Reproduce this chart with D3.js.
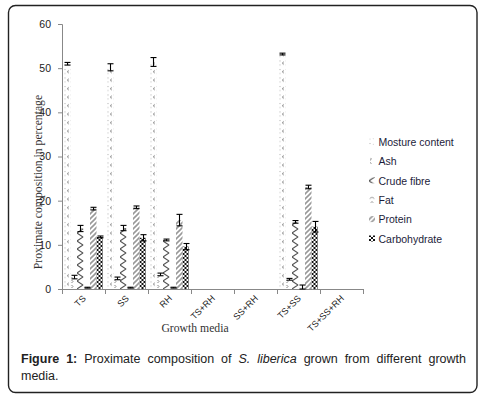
<!DOCTYPE html>
<html>
<head>
<meta charset="utf-8">
<script src="https://cdn.jsdelivr.net/npm/d3@7"></script>
<style>
  body { margin: 0; background: #fff; }
  svg { display: block; }
</style>
</head>
<body>
<svg id="chart" width="485" height="397"></svg>
<script>
// categories and series
const media = ["TS", "SS", "RH", "TS+RH", "SS+RH", "TS+SS", "TS+SS+RH"];
const seriesNames = ["Mosture content", "Ash", "Crude fibre", "Fat", "Protein", "Carbohydrate"];

// values per series, one per growth medium (empty media = 0)
const moisture = [51.0, 50.2, 51.4, 0, 0, 53.2, 0];
const ash      = [2.7, 2.4, 3.3, 0, 0, 2.2, 0];
const fibre    = [13.7, 13.8, 11.1, 0, 0, 15.2, 0];
const fat      = [0.3, 0.3, 0.3, 0, 0, 0.3, 0];
const protein  = [18.2, 18.5, 15.6, 0, 0, 23.1, 0];
const carbo    = [11.8, 11.6, 9.6, 0, 0, 14.1, 0];

// error (+/-) per series
const moistureErr = [0.3, 0.8, 1.0, 0, 0, 0.2, 0];
const ashErr      = [0.4, 0.3, 0.3, 0, 0, 0.2, 0];
const fibreErr    = [0.7, 0.6, 0.2, 0, 0, 0.3, 0];
const fatErr      = [0.1, 0.1, 0.1, 0, 0, 0.6, 0];
const proteinErr  = [0.3, 0.3, 1.3, 0, 0, 0.4, 0];
const carboErr    = [0.2, 0.7, 0.7, 0, 0, 1.2, 0];

const yTicks = [0, 10, 20, 30, 40, 50, 60];

const values = [moisture, ash, fibre, fat, protein, carbo];
const errors = [moistureErr, ashErr, fibreErr, fatErr, proteinErr, carboErr];

const svg = d3.select("#chart");

// frame
svg.append("rect")
  .attr("x", 8.5).attr("y", 5.5)
  .attr("width", 468.5).attr("height", 387)
  .attr("rx", 7)
  .attr("fill", "none")
  .attr("stroke", "#222")
  .attr("stroke-width", 1.4);

// patterns
const defs = svg.append("defs");
function pat(id, w, h) {
  const p = defs.append("pattern").attr("id", id)
    .attr("patternUnits", "userSpaceOnUse")
    .attr("width", w).attr("height", h);
  p.append("rect").attr("width", w).attr("height", h).attr("fill", "#fff");
  return p;
}
// moisture: light dots + small "<"
let p = pat("p0", 6, 8.5);
p.append("rect").attr("x", 0.5).attr("y", 1).attr("width", 1).attr("height", 1).attr("fill", "#aaa");
p.append("rect").attr("x", 0.5).attr("y", 5).attr("width", 1).attr("height", 1).attr("fill", "#bbb");
p.append("path").attr("d", "M4.8,2.5 L3.3,3.7 L4.8,4.9").attr("fill", "none").attr("stroke", "#555").attr("stroke-width", 0.8);
// ash: small arcs
p = pat("p1", 6, 5);
p.append("path").attr("d", "M1,1 Q4,2.5 1,4").attr("fill", "none").attr("stroke", "#666").attr("stroke-width", 0.8);
// crude fibre: zigzag
p = pat("p2", 7, 8);
p.append("path").attr("d", "M0,0 L6,4 L0,8").attr("fill", "none").attr("stroke", "#555").attr("stroke-width", 1.1);
// fat: small chevrons
p = pat("p3", 6, 5);
p.append("path").attr("d", "M1,3.5 L3,1.5 L5,3.5").attr("fill", "none").attr("stroke", "#555").attr("stroke-width", 0.8);
// protein: gray diagonal hatch
p = pat("p4", 5, 5);
p.append("path").attr("d", "M-1,1 L1,-1 M0,5 L5,0 M4,6 L6,4").attr("stroke", "#999").attr("stroke-width", 1.6);
// carbohydrate: black checker
p = pat("p5", 4, 4);
p.append("rect").attr("x", 0).attr("y", 0).attr("width", 2).attr("height", 2).attr("fill", "#111");
p.append("rect").attr("x", 2).attr("y", 2).attr("width", 2).attr("height", 2).attr("fill", "#111");

// scales
const x0 = d3.scaleBand().domain(media).range([62, 363]).padding(0);
const x1 = d3.scaleBand().domain(d3.range(seriesNames.length))
  .range([2, x0.bandwidth() - 2]).padding(0);
const y = d3.scaleLinear().domain([0, 60]).range([289, 24]);

// y axis
const yAxis = svg.append("g")
  .attr("transform", "translate(62,0)")
  .call(d3.axisLeft(y).tickValues(yTicks).tickSize(4).tickPadding(7));
yAxis.select(".domain").attr("stroke", "#888");
yAxis.selectAll(".tick line").attr("stroke", "#888");
yAxis.selectAll(".tick text")
  .attr("font-family", "Liberation Sans, Arial, sans-serif")
  .attr("font-size", 10.5).attr("fill", "#222");

// x axis line + boundary ticks
svg.append("line").attr("x1", 62).attr("x2", 363).attr("y1", 289.5).attr("y2", 289.5)
  .attr("stroke", "#888");
const bounds = media.map(m => x0(m)).concat([x0(media[media.length - 1]) + x0.bandwidth()]);
svg.selectAll(".bt").data(bounds).enter().append("line")
  .attr("x1", d => Math.round(d) + 0.5).attr("x2", d => Math.round(d) + 0.5)
  .attr("y1", 289).attr("y2", 294)
  .attr("stroke", "#888");

// x labels rotated
svg.selectAll(".xl").data(media).enter().append("text")
  .attr("transform", d => `translate(${x0(d) + x0.bandwidth() / 2 + 3},${299}) rotate(-45)`)
  .attr("text-anchor", "end")
  .attr("font-family", "Liberation Sans, Arial, sans-serif")
  .attr("font-size", 9).attr("fill", "#222")
  .text(d => d);

// bars
seriesNames.forEach((s, si) => {
  media.forEach((m, mi) => {
    const v = values[si][mi];
    if (v <= 0) return;
    const bx = x0(m) + x1(si);
    const g = svg.append("g").attr("transform", `translate(${bx},${y(0)})`);
    g.append("rect")
      .attr("x", 0).attr("y", y(v) - y(0))
      .attr("width", x1.bandwidth())
      .attr("height", y(0) - y(v))
      .attr("fill", `url(#p${si})`);
  });
});

// error bars
seriesNames.forEach((s, si) => {
  media.forEach((m, mi) => {
    const v = values[si][mi];
    if (v <= 0) return;
    const e = errors[si][mi];
    const cx = Math.round(x0(m) + x1(si) + x1.bandwidth() / 2) + 0.5;
    const top = y(v + e), bot = y(Math.max(0, v - e));
    const eb = svg.append("g").attr("stroke", "#000").attr("stroke-width", 1.1);
    eb.append("line").attr("x1", cx).attr("x2", cx).attr("y1", top).attr("y2", bot);
    eb.append("line").attr("x1", cx - 3).attr("x2", cx + 3).attr("y1", top).attr("y2", top);
    eb.append("line").attr("x1", cx - 3).attr("x2", cx + 3).attr("y1", bot).attr("y2", bot);
  });
});

// axis titles
svg.append("text")
  .attr("transform", "translate(42,182) rotate(-90)")
  .attr("text-anchor", "middle")
  .attr("font-family", "Liberation Serif, Times New Roman, serif")
  .attr("font-size", 11.7).attr("fill", "#333")
  .text("Proximate composition in percentage");

svg.append("text")
  .attr("x", 195).attr("y", 332)
  .attr("text-anchor", "middle")
  .attr("font-family", "Liberation Serif, Times New Roman, serif")
  .attr("font-size", 11.7).attr("fill", "#333")
  .text("Growth media");

// legend
const legend = svg.selectAll(".lg").data(seriesNames).enter().append("g")
  .attr("transform", (d, i) => `translate(369,${142 + i * 19.4})`);
legend.append("rect")
  .attr("x", 0).attr("y", -3.5).attr("width", 6).attr("height", 6)
  .attr("fill", (d, i) => `url(#p${i})`);
legend.append("text")
  .attr("x", 9.5).attr("y", 3.8)
  .attr("font-family", "Liberation Sans, Arial, sans-serif")
  .attr("font-size", 10.5).attr("fill", "#1c1c3a")
  .text(d => d);

// caption (justified first line)
const capFont = "Liberation Sans, Arial, sans-serif";
const line1 = svg.append("text")
  .attr("x", 21).attr("y", 363)
  .attr("font-family", capFont).attr("font-size", 12.5).attr("fill", "#222");
line1.append("tspan").attr("font-weight", "bold").text("Figure 1:");
line1.append("tspan").text(" Proximate composition of ");
line1.append("tspan").attr("font-style", "italic").text("S. liberica");
line1.append("tspan").text(" grown from different growth");
const len = line1.node().getComputedTextLength();
const spaces = 10;
line1.attr("word-spacing", Math.max(0, (445 - len) / spaces));

svg.append("text")
  .attr("x", 21).attr("y", 380)
  .attr("font-family", capFont).attr("font-size", 12.5).attr("fill", "#222")
  .text("media.");
</script>
</body>
</html>
